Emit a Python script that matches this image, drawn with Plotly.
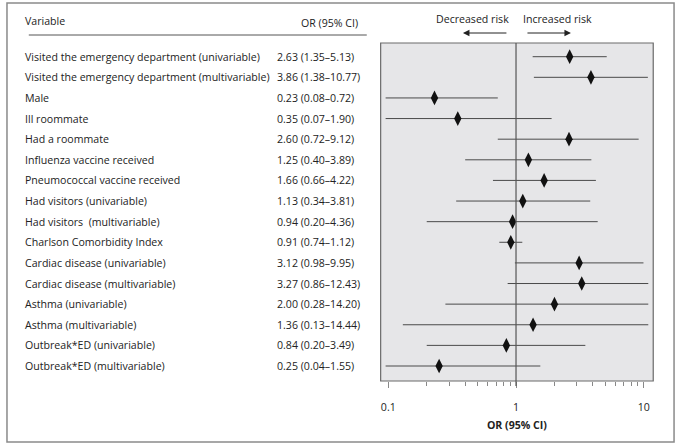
import math
import plotly.graph_objects as go

variables = [
    "Visited the emergency department (univariable)",
    "Visited the emergency department (multivariable)",
    "Male",
    "Ill roommate",
    "Had a roommate",
    "Influenza vaccine received",
    "Pneumococcal vaccine received",
    "Had visitors (univariable)",
    "Had visitors  (multivariable)",
    "Charlson Comorbidity Index",
    "Cardiac disease (univariable)",
    "Cardiac disease (multivariable)",
    "Asthma (univariable)",
    "Asthma (multivariable)",
    "Outbreak*ED (univariable)",
    "Outbreak*ED (multivariable)",
]
odds_ratio = [2.63, 3.86, 0.23, 0.35, 2.60, 1.25, 1.66, 1.13, 0.94, 0.91, 3.12, 3.27, 2.00, 1.36, 0.84, 0.25]
ci_low = [1.35, 1.38, 0.08, 0.07, 0.72, 0.40, 0.66, 0.34, 0.20, 0.74, 0.98, 0.86, 0.28, 0.13, 0.20, 0.04]
ci_high = [5.13, 10.77, 0.72, 1.90, 9.12, 3.89, 4.22, 3.81, 4.36, 1.12, 9.95, 12.43, 14.20, 14.44, 3.49, 1.55]
tick_vals = [0.1, 1, 10]
tick_text = ["0.1", "1", "10"]
minor_vals = [0.2, 0.3, 0.4, 0.5, 0.6, 0.7, 0.8, 0.9, 2, 3, 4, 5, 6, 7, 8, 9]

W, H = 680, 447
def px(x):
    return x / W
def py(y):
    return 1 - y / H

FONT = "Open Sans"
FS = 10.6
rows = list(range(len(variables)))

fig = go.Figure()

# CI lines
xs, ys = [], []
for i, (lo, hi) in enumerate(zip(ci_low, ci_high)):
    xs += [lo, hi, None]
    ys += [i, i, None]
fig.add_trace(go.Scatter(x=xs, y=ys, mode="lines", line=dict(color="#4a4a4a", width=1),
                         hoverinfo="skip", showlegend=False))
fig.add_trace(go.Scatter(x=odds_ratio, y=rows, mode="markers",
                         marker=dict(symbol="diamond-tall", size=10.5, color="#111111"),
                         showlegend=False))

# row spacing / axis geometry
y_top_px, y_bot_px = 43, 381
row0_px, row15_px = 56.7, 366
step = (row15_px - row0_px) / 15
y_top_val = -(row0_px - y_top_px) / step
y_bot_val = (y_bot_px - row0_px) / step

fig.update_layout(
    width=W, height=H,
    margin=dict(l=0, r=0, t=0, b=0),
    paper_bgcolor="white", plot_bgcolor="rgba(0,0,0,0)",
    font=dict(family=FONT, size=FS, color="#222"),
    xaxis=dict(type="log", range=[math.log10(0.0953), math.log10(10.85)],
               domain=[px(384), px(649)],
               tickvals=tick_vals, ticktext=tick_text,
               ticks="outside", ticklen=6, tickcolor="#888", tickwidth=1,
               ticklabelstandoff=10,
               minor=dict(tickvals=minor_vals, ticks="outside", ticklen=4, tickcolor="#888", tickwidth=1),
               showgrid=False, zeroline=False, showline=False,
               tickfont=dict(size=FS, family=FONT, color="#222"),
               title=dict(text="<b>OR (95% CI)</b>", font=dict(size=FS, family=FONT, color="#222"), standoff=8)),
    yaxis=dict(range=[y_bot_val, y_top_val], domain=[py(y_bot_px), py(y_top_px)],
               showticklabels=False, showgrid=False, zeroline=False, showline=False, ticks=""),
)

shapes = [
    # outer frame
    dict(type="rect", xref="paper", yref="paper", x0=px(2), x1=px(675), y0=py(442), y1=py(3),
         line=dict(color="#8a8a8a", width=1.5), layer="below"),
    # plot box
    dict(type="rect", xref="paper", yref="paper", x0=px(379), x1=px(654), y0=py(y_bot_px), y1=py(y_top_px),
         fillcolor="#e6e6e8", line=dict(color="#6a6a6a", width=1.2), layer="below"),
    # header rule
    dict(type="line", xref="paper", yref="paper", x0=px(24), x1=px(365), y0=py(35), y1=py(35),
         line=dict(color="#555", width=1)),
    # reference line at OR = 1
    dict(type="line", xref="x", yref="paper", x0=1, x1=1, y0=py(y_bot_px + 5), y1=py(y_top_px),
         line=dict(color="#555", width=1.2)),
]
fig.update_layout(shapes=shapes)

LX = 19
ann = []
ann.append(dict(text="Variable", x=px(LX), y=py(21), xref="paper", yref="paper",
                xanchor="left", yanchor="middle", showarrow=False, borderpad=0))
ann.append(dict(text="OR (95% CI)", x=px(298), y=py(23), xref="paper", yref="paper",
                xanchor="left", yanchor="middle", showarrow=False, borderpad=0))
for i, v in enumerate(variables):
    ann.append(dict(text=v, x=px(LX), y=i, xref="paper", yref="y",
                    xanchor="left", yanchor="middle", showarrow=False, borderpad=0))
    ann.append(dict(text=f"{odds_ratio[i]:.2f} ({ci_low[i]:.2f}\u2013{ci_high[i]:.2f})",
                    x=px(273), y=i, xref="paper", yref="y",
                    xanchor="left", yanchor="middle", showarrow=False, borderpad=0))
ann.append(dict(text="Decreased risk", x=px(472), y=py(19), xref="paper", yref="paper",
                xanchor="center", yanchor="middle", showarrow=False))
ann.append(dict(text="Increased risk", x=px(557), y=py(19), xref="paper", yref="paper",
                xanchor="center", yanchor="middle", showarrow=False))
# arrows
ann.append(dict(text="", x=px(462), y=py(33), xref="paper", yref="paper",
                ax=45, ay=0, showarrow=True, arrowhead=2, arrowsize=1.3, arrowwidth=1, arrowcolor="#222"))
ann.append(dict(text="", x=px(571), y=py(33), xref="paper", yref="paper",
                ax=-45, ay=0, showarrow=True, arrowhead=2, arrowsize=1.3, arrowwidth=1, arrowcolor="#222"))
fig.update_layout(annotations=ann)

fig.write_html("out.html", config={"displayModeBar": False},
               post_script="document.body.style.margin='0';document.body.style.overflow='hidden';")
